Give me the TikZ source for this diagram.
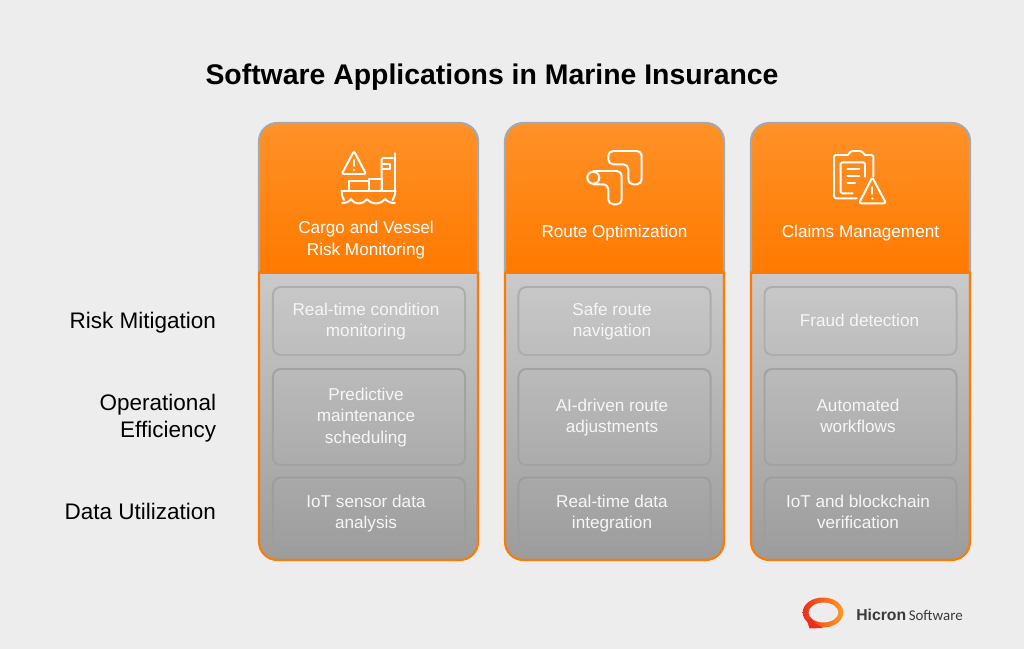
\documentclass[tikz,border=0pt]{standalone}
\usepackage{fontspec}
\setmainfont{Liberation Sans}
\newfontfamily\logofont{Carlito}
\usepackage{xcolor}
\definecolor{pagegray}{HTML}{EDEDED}
\definecolor{orangetop}{HTML}{FF9128}
\definecolor{orangelow}{HTML}{FF7A00}
\definecolor{bodytop}{HTML}{CACACA}
\definecolor{bodylow}{HTML}{9C9C9C}
\definecolor{rimgray}{HTML}{A3A9AE}
\definecolor{rowone}{HTML}{ADADAD}
\definecolor{rowtwo}{HTML}{A2A2A2}
\definecolor{rowthree}{HTML}{9D9D9D}
\definecolor{celltext}{HTML}{F6F6F6}
\definecolor{logored}{HTML}{E8301C}
\definecolor{logoorange}{HTML}{FF9A1E}
\definecolor{logotext}{HTML}{3A3A3A}
\tikzset{
  headtext/.style={text=white,font=\fontsize{12.2}{15.2}\selectfont,align=center},
  celltxt/.style={text=celltext,font=\fontsize{12.2}{15}\selectfont,align=center},
  rowlabel/.style={anchor=east,align=right,text=black,font=\fontsize{16}{19.4}\selectfont},
  cellbox/.style={draw=#1,line width=1.4pt,rounded corners=5.5pt,minimum width=4.8cm},
  iconline/.style={draw=white,line width=1.4pt,line join=round,line cap=round},
}
\begin{document}
\begin{tikzpicture}[x=0.025cm,y=-0.025cm]
\fill[pagegray] (0,0) rectangle (1024,649);
\useasboundingbox (0,0) rectangle (1024,649);

\node[font=\bfseries\fontsize{20.2}{24}\selectfont] (title) at (492,77) {Software Applications in Marine Insurance};

% the three columns
\foreach \xcol in {259,505,751} {
  \shade[top color=bodytop,bottom color=bodylow,draw=orangelow,line width=1.5pt]
    (\xcol,272) [rounded corners=13pt] -- (\xcol,560) -- (\xcol+219,560) [sharp corners] -- (\xcol+219,272) -- cycle;
  \shade[top color=orangetop,bottom color=orangelow,draw=rimgray,line width=1.5pt]
    (\xcol,272) [rounded corners=13pt] -- (\xcol,123) -- (\xcol+219,123) [sharp corners] -- (\xcol+219,272);
  \draw[orangelow,line width=2pt] (\xcol,272.5) -- (\xcol+219,272.5);
}

\node[headtext] (headcargo) at (366,240) {Cargo and Vessel\\Risk Monitoring};
\node[headtext] (headroute) at (614.5,233) {Route Optimization};
\node[headtext] (headclaims) at (860.5,233) {Claims Management};

\node[rowlabel] (labelrisk) at (221,323) {Risk Mitigation};
\node[rowlabel] (labeloper) at (221,418) {Operational\\Efficiency};
\node[rowlabel] (labeldata) at (221,511.5) {Data Utilization};

% first row
\node[cellbox=rowone,celltxt,minimum height=1.7cm] (cargorisk) at (369,321) {};
\node[celltxt] at (366,322) {Real-time condition\\monitoring};
\node[cellbox=rowone,celltxt,minimum height=1.7cm] (routerisk) at (614.5,321) {};
\node[celltxt] at (612,322) {Safe route\\navigation};
\node[cellbox=rowone,celltxt,minimum height=1.7cm] (claimsrisk) at (860.5,321) {};
\node[celltxt] at (859.5,320.5) {Fraud detection};

% second row
\node[cellbox=rowtwo,celltxt,minimum height=2.4cm] (cargooper) at (369,417) {};
\node[celltxt] at (366,417.5) {Predictive\\maintenance\\scheduling};
\node[cellbox=rowtwo,celltxt,minimum height=2.4cm] (routeoper) at (614.5,417) {};
\node[celltxt] at (612,418) {AI-driven route\\adjustments};
\node[cellbox=rowtwo,celltxt,minimum height=2.4cm] (claimsoper) at (860.5,417) {};
\node[celltxt] at (858,416) {Automated\\workflows};

% third row
\node[cellbox=rowthree,celltxt,minimum height=1.775cm] (cargodata) at (369,513) {};
\node[celltxt] at (366,513.5) {IoT sensor data\\analysis};
\node[cellbox=rowthree,celltxt,minimum height=1.775cm] (routedata) at (614.5,513) {};
\node[celltxt] at (612,513.5) {Real-time data\\integration};
\node[cellbox=rowthree,celltxt,minimum height=1.775cm] (claimsdata) at (860.5,513) {};
\node[celltxt] at (858,511.5) {IoT and blockchain\\verification};

% ship icon
\draw[iconline,rounded corners=1.5pt] (354,151) -- (341.7,174) -- (366,174) -- cycle;
\draw[iconline] (354,160) -- (354,166);
\fill[white] (354,170) circle (1.2);
\draw[iconline] (341.7,190.7) -- (395.3,190.7);
\draw[iconline] (341.7,190.7) .. controls (341.7,195) and (342.5,198) .. (344,200);
\draw[iconline] (395.3,190.7) .. controls (395,195) and (394,198) .. (392.7,200);
\draw[iconline] (342,203) .. controls (347,203) and (350,201) .. (351,199) .. controls (355,205) and (362,205) .. (367,199) .. controls (372,205) and (380,205) .. (385,199) .. controls (388,202) and (391,203) .. (395,203);
\draw[iconline] (349.3,190.7) rectangle (369.3,181);
\draw[iconline] (369.3,190.7) rectangle (381.7,179);
\draw[iconline,rounded corners=1pt] (381.7,190.7) -- (381.7,158) -- (393,158);
\draw[iconline] (395.3,153.3) -- (395.3,190.7);
\draw[iconline] (382.5,164.3) -- (390,164.3) -- (390,169) -- (382.5,169);

% route icon
\draw[iconline,rounded corners=3.5pt] (608.3,164.3) -- (608.3,151) -- (641.7,151) -- (641.7,184.3) -- (628.3,184.3) -- (628.3,164.3) -- cycle;
\draw[iconline] (593.3,177.7) circle (6);
\draw[iconline,rounded corners=3.5pt] (593.3,171) -- (621.7,171) -- (621.7,204.3) -- (608.3,204.3) -- (608.3,184.3) -- (593.3,184.3);

% claims icon
\draw[iconline,rounded corners=1.5pt] (848,155) -- (834,155) -- (834,198.3) -- (856.7,198.3);
\draw[iconline,rounded corners=1.5pt] (865,155) -- (873.3,155) -- (873.3,176.7);
\draw[iconline,rounded corners=1pt] (848,155) -- (851,151) -- (861.5,151) -- (865,155);
\draw[iconline,rounded corners=1pt] (852.7,193.3) -- (840.7,193.3) -- (840.7,162.3) -- (865,162.3) -- (865,176.7);
\draw[iconline] (847.3,169) -- (859.3,169);
\draw[iconline] (847.3,175.7) -- (859.3,175.7);
\draw[iconline] (847.3,182.7) -- (855,182.7);
\draw[iconline,rounded corners=1.5pt] (872.3,177.3) -- (859,203.3) -- (886,203.3) -- cycle;
\draw[iconline] (872.3,187) -- (872.3,194);
\fill[white] (872.3,198.5) circle (1.2);

% logo
\shade[left color=logored,right color=logoorange,even odd rule]
  (823,612.5) ellipse (20.3 and 15) (823.5,612.5) ellipse (15 and 10);
\fill[logored] (806.5,619) -- (809.5,628.5) -- (823,628) -- (815,623) -- (811,619) -- cycle;
\node[anchor=west,inner sep=0pt,text=logotext,font=\fontsize{11.2}{14}\selectfont] (logotext) at (856,614.5) {\textbf{Hicron}\,{\logofont\fontsize{10.6}{14}\selectfont Software}};
\end{tikzpicture}
\end{document}
